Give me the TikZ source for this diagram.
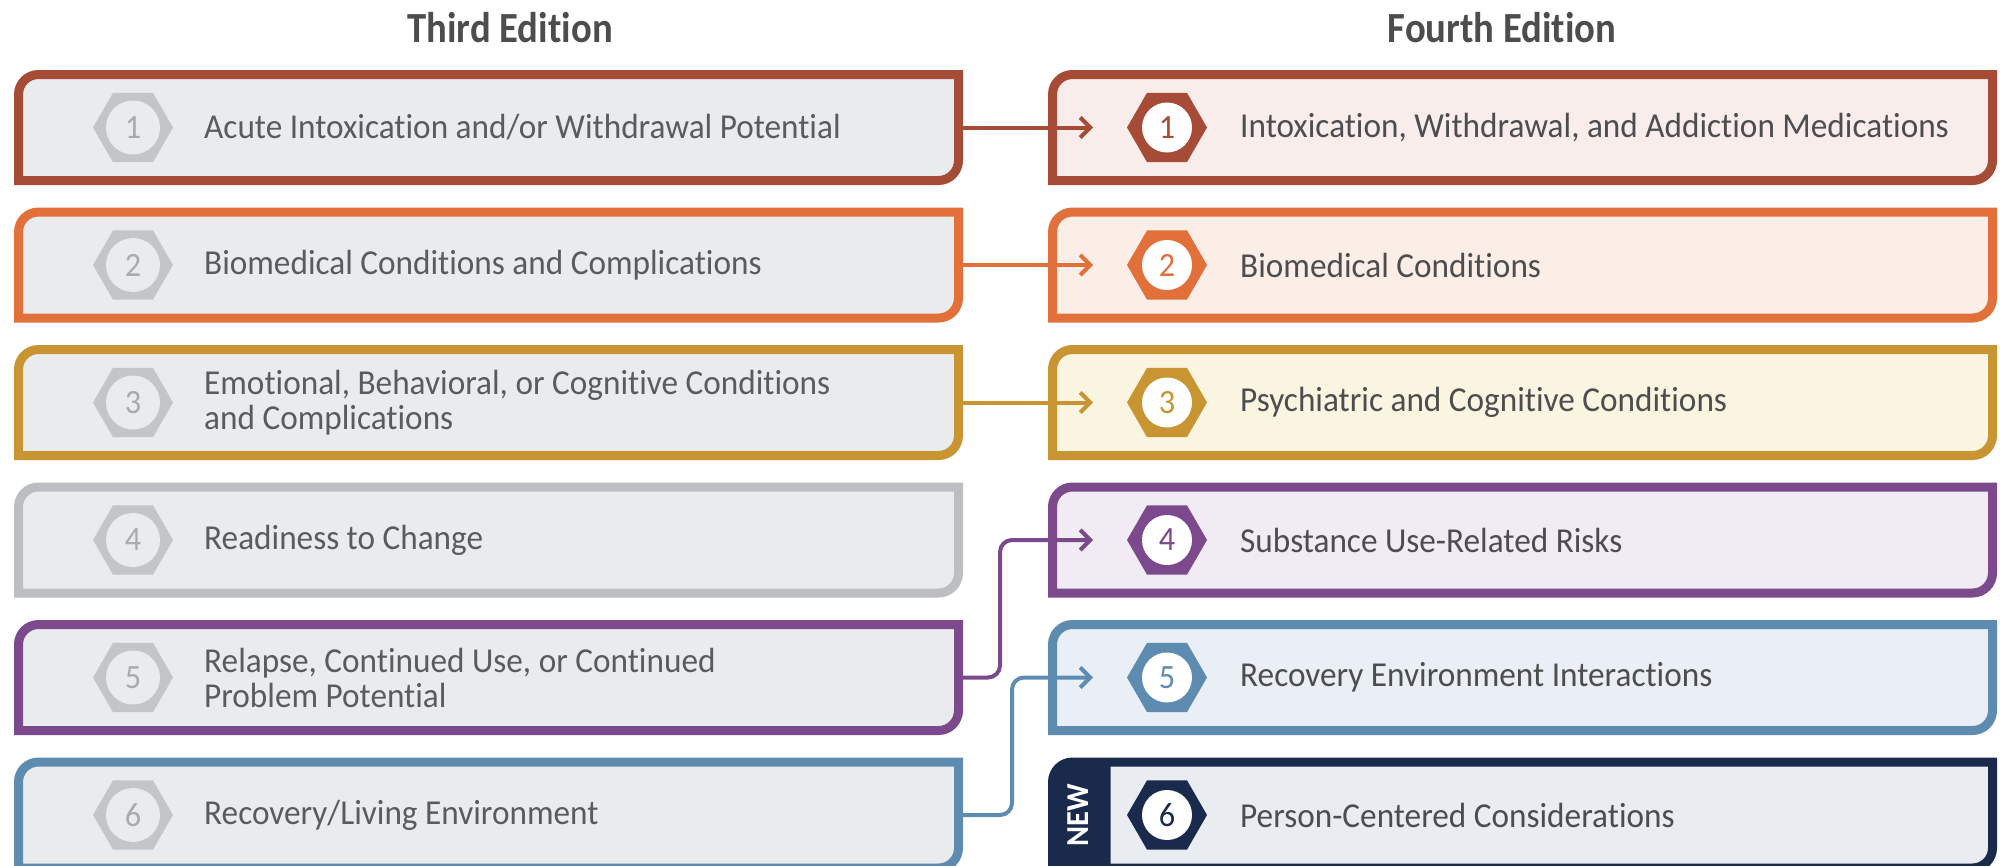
\documentclass[tikz,border=0pt]{standalone}
\usepackage{fontspec}
\setmainfont[FakeStretch=0.95, Ligatures=NoCommon]{Carlito}
\newfontfamily\headfont[FakeStretch=0.9, Ligatures=NoCommon]{Carlito}
\usetikzlibrary{positioning,arrows.meta,shapes.geometric}
\definecolor{dimred}{HTML}{A64B35}
\definecolor{dimorange}{HTML}{E2703A}
\definecolor{dimgold}{HTML}{C99432}
\definecolor{dimgray}{HTML}{BDBEC1}
\definecolor{dimpurple}{HTML}{7C4A8C}
\definecolor{dimblue}{HTML}{5E8CB0}
\definecolor{dimnavy}{HTML}{1A2A4C}
\definecolor{oldbg}{HTML}{EAEBED}
\definecolor{bgred}{HTML}{F8EDEB}
\definecolor{bgorange}{HTML}{FBEEE7}
\definecolor{bggold}{HTML}{F9F5E0}
\definecolor{bgpurple}{HTML}{F1EBF3}
\definecolor{bgblue}{HTML}{E9EFF4}
\definecolor{bgnavy}{HTML}{E9ECF1}
\definecolor{hexgray}{HTML}{C4C5C7}
\definecolor{numgray}{HTML}{A9AAAC}
\definecolor{oldtext}{HTML}{5A5B5D}
\definecolor{newtext}{HTML}{4D4D4F}

% frame with rounded top-left and bottom-right corners
\newcommand{\cardframe}[3]{%
  \path[draw=#2, fill=#3, line width=9pt]
    (#1.south west) -- ([yshift=-20pt]#1.north west)
    arc[start angle=180, end angle=90, radius=20pt] -- (#1.north east)
    -- ([yshift=20pt]#1.south east)
    arc[start angle=0, end angle=-90, radius=20pt] -- cycle;}

\begin{document}
\begin{tikzpicture}[
    x=1pt, y=-1pt,
    card/.style={minimum width=940pt, minimum height=106pt, inner sep=0pt, outer sep=0pt},
    head/.style={font=\headfont\bfseries\fontsize{43}{45}\selectfont, text=newtext},
    oldlbl/.style={font=\fontsize{35}{35}\selectfont, text=oldtext, align=left, inner sep=0pt, anchor=west},
    newlbl/.style={font=\fontsize{35}{35}\selectfont, text=newtext, align=left, inner sep=0pt, anchor=west},
    hexold/.style={regular polygon, regular polygon sides=6, minimum size=80pt,
                   inner sep=0pt, outer sep=0pt, fill=hexgray, text=numgray,
                   font=\fontsize{34}{34}\selectfont,
                   path picture={\fill[oldbg] (path picture bounding box.center) circle[radius=27pt];}},
    hexnew/.style={regular polygon, regular polygon sides=6, minimum size=80pt,
                   inner sep=0pt, outer sep=0pt, fill=#1, text=#1,
                   font=\fontsize{34}{34}\selectfont,
                   path picture={\fill[white] (path picture bounding box.center) circle[radius=25pt];}},
    link/.style={draw=#1, line width=4pt, -{Straight Barb[length=10pt, width=20pt]}, shorten >=34pt},
]
\useasboundingbox (0,0) rectangle (2000,865);

% Headers
\node[head] (third) at (510,28) {Third Edition};
\node[head] (fourth) at (1502,28) {Fourth Edition};

% Card placeholders
\node[card] (l1) at (488.5,127.5) {};
\node[card, below=31.5pt of l1] (l2) {};
\node[card, below=31.5pt of l2] (l3) {};
\node[card, below=31.5pt of l3] (l4) {};
\node[card, below=31.5pt of l4] (l5) {};
\node[card, below=31.5pt of l5] (l6) {};
\node[card, right=94pt of l1] (r1) {};
\node[card, right=94pt of l2] (r2) {};
\node[card, right=94pt of l3] (r3) {};
\node[card, right=94pt of l4] (r4) {};
\node[card, right=94pt of l5] (r5) {};
\node[card, right=94pt of l6] (r6) {};

% Frames
\cardframe{l1}{dimred}{oldbg}
\cardframe{l2}{dimorange}{oldbg}
\cardframe{l3}{dimgold}{oldbg}
\cardframe{l4}{dimgray}{oldbg}
\cardframe{l5}{dimpurple}{oldbg}
\cardframe{l6}{dimblue}{oldbg}
\cardframe{r1}{dimred}{bgred}
\cardframe{r2}{dimorange}{bgorange}
\cardframe{r3}{dimgold}{bggold}
\cardframe{r4}{dimpurple}{bgpurple}
\cardframe{r5}{dimblue}{bgblue}
\cardframe{r6}{dimnavy}{bgnavy}

% NEW badge
\fill[dimnavy] (r6.south west) -- ([yshift=-20pt]r6.north west)
  arc[start angle=180, end angle=90, radius=20pt] -- ([xshift=58pt]r6.north west)
  -- ([xshift=58pt]r6.south west) -- cycle;
\node[rotate=90, text=white, font=\bfseries\fontsize{32}{32}\selectfont] (r6new)
  at ([xshift=26pt]r6.west) {NEW};

% Third edition
\node[hexold, right=74.5pt of l1.west] (l1h) {1};
\node[oldlbl, right=31pt of l1h] (l1t) {Acute Intoxication and/or Withdrawal Potential};
\node[hexold, right=74.5pt of l2.west] (l2h) {2};
\node[oldlbl, right=31pt of l2h] (l2t) {Biomedical Conditions and Complications};
\node[hexold, right=74.5pt of l3.west] (l3h) {3};
\node[oldlbl, right=31pt of l3h] (l3t) {Emotional, Behavioral, or Cognitive Conditions\\and Complications};
\node[hexold, right=74.5pt of l4.west] (l4h) {4};
\node[oldlbl, right=31pt of l4h] (l4t) {Readiness to Change};
\node[hexold, right=74.5pt of l5.west] (l5h) {5};
\node[oldlbl, right=31pt of l5h] (l5t) {Relapse, Continued Use, or Continued\\Problem Potential};
\node[hexold, right=74.5pt of l6.west] (l6h) {6};
\node[oldlbl, right=31pt of l6h] (l6t) {Recovery/Living Environment};

% Fourth edition
\node[hexnew=dimred, right=74.5pt of r1.west] (r1h) {1};
\node[newlbl, right=33pt of r1h] (r1t) {Intoxication, Withdrawal, and Addiction Medications};
\node[hexnew=dimorange, right=74.5pt of r2.west] (r2h) {2};
\node[newlbl, right=33pt of r2h] (r2t) {Biomedical Conditions};
\node[hexnew=dimgold, right=74.5pt of r3.west] (r3h) {3};
\node[newlbl, right=33pt of r3h] (r3t) {Psychiatric and Cognitive Conditions};
\node[hexnew=dimpurple, right=74.5pt of r4.west] (r4h) {4};
\node[newlbl, right=33pt of r4h] (r4t) {Substance Use-Related Risks};
\node[hexnew=dimblue, right=74.5pt of r5.west] (r5h) {5};
\node[newlbl, right=33pt of r5h] (r5t) {Recovery Environment Interactions};
\node[hexnew=dimnavy, right=74.5pt of r6.west] (r6h) {6};
\node[newlbl, right=33pt of r6h] (r6t) {Person-Centered Considerations};

% Links
\draw[link=dimred] (l1.east) -- (r1h.west);
\draw[link=dimorange] (l2.east) -- (r2h.west);
\draw[link=dimgold] (l3.east) -- (r3h.west);
\draw[link=dimpurple, rounded corners=12pt] (l5.east) -- ++(41.5,0) |- (r4h.west);
\draw[link=dimblue, rounded corners=12pt] (l6.east) -- ++(53.5,0) |- (r5h.west);

\end{tikzpicture}
\end{document}
